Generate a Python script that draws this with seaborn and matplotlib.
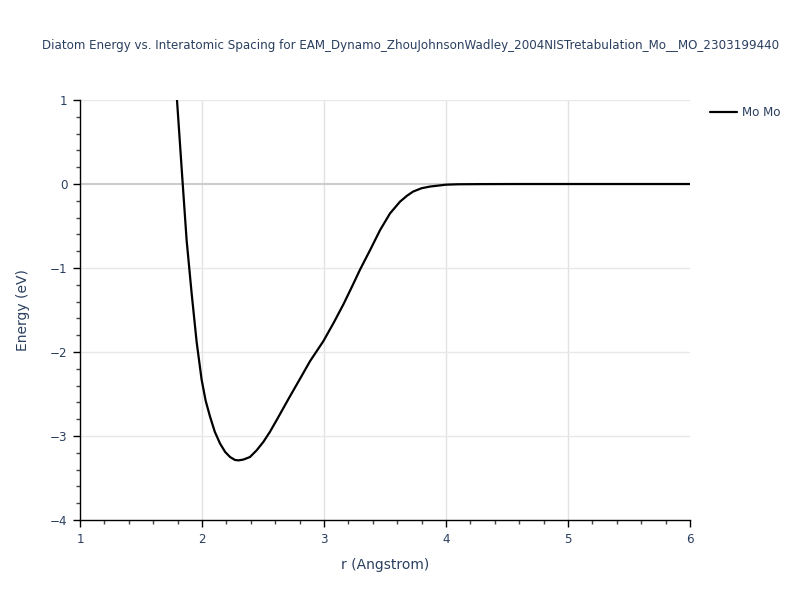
#diatom energy curve for Mo-Mo pair

import matplotlib
matplotlib.use("Agg")
import matplotlib.pyplot as plt
from matplotlib.ticker import MultipleLocator
import seaborn as sns
import pandas as pd

#values
r_values = [1.795, 1.842, 1.874, 1.915, 1.956, 1.997, 2.03, 2.066, 2.105, 2.148,
            2.19, 2.23, 2.27, 2.30, 2.34, 2.393, 2.448, 2.503, 2.557, 2.612,
            2.72, 2.803, 2.885, 2.995, 3.08, 3.16, 3.23, 3.295, 3.38, 3.459,
            3.541, 3.623, 3.68, 3.73, 3.80, 3.87, 4.0, 4.1, 4.3, 4.6, 5.0, 5.5, 6.0]
energy_values = [1.0, 0.0, -0.67, -1.3, -1.88, -2.33, -2.58, -2.77, -2.95, -3.09,
                 -3.19, -3.25, -3.285, -3.29, -3.28, -3.25, -3.17, -3.07, -2.95, -2.81,
                 -2.53, -2.32, -2.11, -1.87, -1.65, -1.43, -1.22, -1.02, -0.78, -0.55,
                 -0.35, -0.21, -0.14, -0.09, -0.05, -0.03, -0.008, -0.003, -0.001, 0, 0, 0, 0]
pair_label = "Mo Mo"
title = "Diatom Energy vs. Interatomic Spacing for EAM_Dynamo_ZhouJohnsonWadley_2004NISTretabulation_Mo__MO_2303199440"

df = pd.DataFrame({"r": r_values, "E": energy_values, "pair": pair_label})

sns.set_theme(style="white")
plt.rcParams['font.family'] = ['DejaVu Sans']
text_color = "#2a3f5f"

fig = plt.figure(figsize=(8, 6), dpi=100)
ax = fig.add_axes([0.1, 0.1333, 0.7625, 0.7])

# grid lines
for x in [2, 3, 4, 5]:
    ax.axvline(x, color="#e2e2e2", lw=1, zorder=0)
for y in [-3, -2, -1, 1]:
    ax.axhline(y, color="#e8e8e8", lw=1, zorder=0)
ax.axhline(0, color="#cccccc", lw=1.5, zorder=0)

sns.lineplot(data=df, x="r", y="E", hue="pair", palette=["black"], lw=1.6,
             ax=ax, legend=True, zorder=3)

ax.set_xlim(1, 6)
ax.set_ylim(-4, 1)
ax.xaxis.set_major_locator(MultipleLocator(1))
ax.xaxis.set_minor_locator(MultipleLocator(0.2))
ax.yaxis.set_major_locator(MultipleLocator(1))
ax.yaxis.set_minor_locator(MultipleLocator(0.2))

for side in ["top", "right"]:
    ax.spines[side].set_visible(False)
for side in ["left", "bottom"]:
    ax.spines[side].set_color("black")
    ax.spines[side].set_linewidth(1)

ax.tick_params(which="major", direction="out", length=5, width=1, color="black",
               labelsize=8.6, labelcolor=text_color, left=True, bottom=True, pad=4)
ax.tick_params(which="minor", direction="out", length=3, width=1, color="#444444",
               left=True, bottom=True)
ax.set_yticks([1, 0, -1, -2, -3, -4])
ax.set_yticklabels(["1", "0", "\u22121", "\u22122", "\u22123", "\u22124"])

ax.set_xlabel("r (Angstrom)", fontsize=10, color=text_color, labelpad=9)
ax.set_ylabel("Energy (eV)", fontsize=10, color=text_color, labelpad=14)

# legend outside on the right
leg = ax.legend(loc="upper left", bbox_to_anchor=(1.015, 1.012), frameon=False,
                fontsize=8.6, handlelength=2.3, handletextpad=0.4)
for t in leg.get_texts():
    t.set_color(text_color)

fig.text(42 / 800, 1 - 45 / 600, title, ha="left", va="center", fontsize=8.6, color=text_color)

fig.savefig("out.png", dpi=100)
